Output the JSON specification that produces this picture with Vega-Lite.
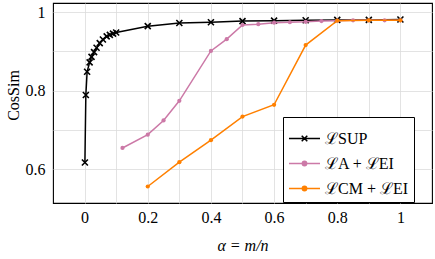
{
  "$schema": "https://vega.github.io/schema/vega-lite/v6.json",
  "width": 379,
  "height": 200,
  "autosize": {"type": "none"},
  "padding": {"left": 53, "top": 3, "right": 3, "bottom": 56},
  "background": "white",
  "config": {
    "view": {"stroke": "black", "strokeWidth": 1.1},
    "font": "Liberation Serif",
    "axis": {"labelFont": "Liberation Serif", "titleFont": "Liberation Serif", "labelFontSize": 16, "titleFontSize": 16, "titleFontWeight": "normal", "labelColor": "black", "titleColor": "black", "gridColor": "#dcdcdc", "gridWidth": 0.8, "domain": false, "ticks": false}
  },
  "data": {"values": [
    {"s": "SUP", "a": 0.001, "v": 0.617},
    {"s": "SUP", "a": 0.004, "v": 0.789},
    {"s": "SUP", "a": 0.008, "v": 0.848},
    {"s": "SUP", "a": 0.016, "v": 0.872},
    {"s": "SUP", "a": 0.022, "v": 0.886},
    {"s": "SUP", "a": 0.03, "v": 0.898},
    {"s": "SUP", "a": 0.038, "v": 0.909},
    {"s": "SUP", "a": 0.048, "v": 0.921},
    {"s": "SUP", "a": 0.058, "v": 0.93},
    {"s": "SUP", "a": 0.07, "v": 0.938},
    {"s": "SUP", "a": 0.08, "v": 0.942},
    {"s": "SUP", "a": 0.09, "v": 0.945},
    {"s": "SUP", "a": 0.1, "v": 0.948},
    {"s": "SUP", "a": 0.2, "v": 0.964},
    {"s": "SUP", "a": 0.3, "v": 0.972},
    {"s": "SUP", "a": 0.4, "v": 0.974},
    {"s": "SUP", "a": 0.5, "v": 0.977},
    {"s": "SUP", "a": 0.6, "v": 0.978},
    {"s": "SUP", "a": 0.7, "v": 0.979},
    {"s": "SUP", "a": 0.8, "v": 0.98},
    {"s": "SUP", "a": 0.9, "v": 0.98},
    {"s": "SUP", "a": 1.0, "v": 0.981},
    {"s": "A", "a": 0.12, "v": 0.654},
    {"s": "A", "a": 0.2, "v": 0.688},
    {"s": "A", "a": 0.25, "v": 0.724},
    {"s": "A", "a": 0.3, "v": 0.774},
    {"s": "A", "a": 0.4, "v": 0.901},
    {"s": "A", "a": 0.45, "v": 0.931},
    {"s": "A", "a": 0.5, "v": 0.967},
    {"s": "A", "a": 0.55, "v": 0.969},
    {"s": "A", "a": 0.6, "v": 0.973},
    {"s": "A", "a": 0.65, "v": 0.974},
    {"s": "A", "a": 0.7, "v": 0.975},
    {"s": "A", "a": 0.75, "v": 0.977},
    {"s": "A", "a": 0.8, "v": 0.978},
    {"s": "A", "a": 0.85, "v": 0.979},
    {"s": "A", "a": 0.9, "v": 0.979},
    {"s": "A", "a": 0.95, "v": 0.979},
    {"s": "A", "a": 1.0, "v": 0.979},
    {"s": "CM", "a": 0.2, "v": 0.556},
    {"s": "CM", "a": 0.3, "v": 0.618},
    {"s": "CM", "a": 0.4, "v": 0.674},
    {"s": "CM", "a": 0.5, "v": 0.734},
    {"s": "CM", "a": 0.6, "v": 0.764},
    {"s": "CM", "a": 0.7, "v": 0.916},
    {"s": "CM", "a": 0.8, "v": 0.978},
    {"s": "CM", "a": 0.9, "v": 0.979},
    {"s": "CM", "a": 1.0, "v": 0.979}
  ]},
  "encoding": {
    "x": {"field": "a", "type": "quantitative",
      "scale": {"domain": [-0.1, 1.1], "nice": false, "zero": false},
      "axis": {"values": [0, 0.1, 0.2, 0.3, 0.4, 0.5, 0.6, 0.7, 0.8, 0.9, 1.0], "grid": true,
        "labelExpr": "round(datum.value*10) % 2 == 0 ? (datum.value == 0 ? '0' : datum.value == 1 ? '1' : format(datum.value, '.1f')) : ''",
        "labelPadding": 6, "labelFlush": false,
        "title": "α = m/n", "titleFontStyle": "italic", "titleY": 42, "titleBaseline": "middle"}},
    "y": {"field": "v", "type": "quantitative",
      "scale": {"domain": [0.514, 1.023], "nice": false, "zero": false},
      "axis": {"values": [0.6, 0.7, 0.8, 0.9, 1.0], "grid": true,
        "labelExpr": "round(datum.value*10) % 2 == 0 ? (datum.value == 1 ? '1' : format(datum.value, '.1f')) : ''",
        "labelPadding": 8, "labelFlush": false,
        "title": "CosSim", "titleX": -40, "titleY": 92, "titleBaseline": "middle", "titleAngle": -90}}
  },
  "layer": [
    {"transform": [{"filter": "datum.s == 'SUP'"}], "mark": {"type": "line", "strokeWidth": 1.5},
     "encoding": {"color": {"field": "s", "type": "nominal", "scale": {"domain": ["SUP", "A", "CM"], "range": ["#000000", "#cc79a7", "#ff8000"]},
       "legend": {"title": null, "orient": "none", "legendX": 230, "legendY": 114, "padding": 5, "strokeColor": "black", "fillColor": "white", "cornerRadius": 0,
         "labelFont": "Liberation Serif", "labelFontSize": 16, "labelColor": "black", "labelOffset": 4, "symbolSize": 961, "rowPadding": -2.5,
         "labelExpr": "datum.value == 'SUP' ? 'ℒSUP' : datum.value == 'A' ? 'ℒA + ℒEI' : 'ℒCM + ℒEI'",
         "encode": {"symbols": {"update": {
           "shape": {"signal": "datum.value == 'SUP' ? 'M-1,0L1,0M-0.18,-0.18L0.18,0.18M-0.18,0.18L0.18,-0.18' : 'M-1,0L1,0M0.14,0A0.14,0.14,0,1,1,-0.14,0A0.14,0.14,0,1,1,0.14,0Z'"},
           "fill": {"signal": "datum.value == 'SUP' ? 'transparent' : datum.value == 'A' ? '#cc79a7' : '#ff8000'"},
           "strokeWidth": {"value": 1.5}}}}}}}},
    {"transform": [{"filter": "datum.s == 'SUP'"}], "mark": {"type": "point", "shape": "M-1,-1L1,1M-1,1L1,-1", "size": 36, "strokeWidth": 1.6, "stroke": "black", "opacity": 1}},
    {"transform": [{"filter": "datum.s == 'A'"}], "mark": {"type": "line", "strokeWidth": 1.5},
     "encoding": {"color": {"field": "s", "type": "nominal"}}},
    {"transform": [{"filter": "datum.s == 'A'"}], "mark": {"type": "circle", "size": 18, "color": "#cc79a7", "opacity": 1}},
    {"transform": [{"filter": "datum.s == 'CM'"}], "mark": {"type": "line", "strokeWidth": 1.5},
     "encoding": {"color": {"field": "s", "type": "nominal"}}},
    {"transform": [{"filter": "datum.s == 'CM'"}], "mark": {"type": "circle", "size": 18, "color": "#ff8000", "opacity": 1}}
  ]
}
